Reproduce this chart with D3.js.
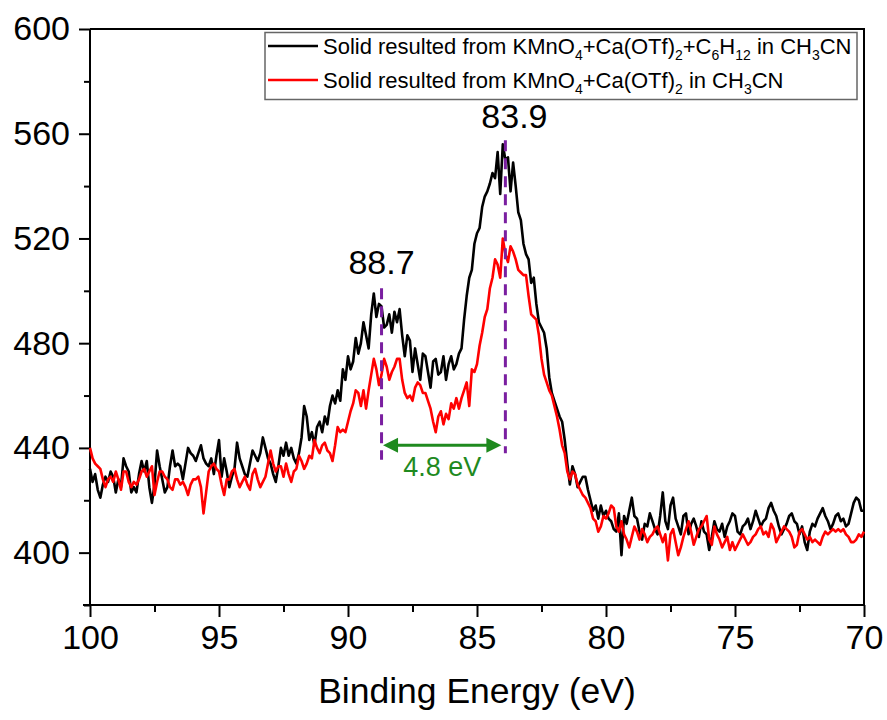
<!DOCTYPE html>
<html>
<head>
<meta charset="utf-8">
<script src="https://cdn.jsdelivr.net/npm/d3@7"></script>
<style>
  html, body { margin: 0; padding: 0; background: #fff; }
  svg { display: block; font-family: "Liberation Sans", Arial, sans-serif; }
</style>
</head>
<body>
<svg id="chart" width="887" height="720"></svg>
<script>
// Binding energy grid (eV), 0.1 eV steps from 100 down to 70
const energy = d3.range(0, 301).map(i => +(100 - 0.1 * i).toFixed(1));

// Intensity, solid from KMnO4 + Ca(OTf)2 + C6H12 in CH3CN (one row per eV)
const withCyclohexane = [
  432, 427, 430, 424, 421, 426, 429, 427, 431, 429,
  423, 428, 425, 436, 433, 431, 423, 425, 423, 430,
  435, 431, 435, 425, 419, 426, 439, 433, 428, 423,
  425, 433, 439, 433, 434, 433, 428, 434, 440, 438,
  437, 435, 438, 441, 436, 434, 433, 436, 430, 437,
  443, 429, 436, 431, 425, 429, 432, 442, 436, 433,
  430, 429, 434, 439, 437, 435, 438, 444, 440, 436,
  434, 430, 427, 433, 440, 437, 442, 437, 440, 436,
  434, 438, 444, 456, 452, 443, 446, 441, 448, 450,
  446, 452, 449, 456, 460, 457, 462, 458, 470, 466,
  475, 470, 473, 482, 476, 480, 488, 483, 478, 491,
  499, 490, 495, 494, 486, 487, 491, 484, 492, 488,
  493, 483, 475, 483, 481, 469, 478, 472, 466, 476,
  475, 469, 463, 473, 474, 468, 469, 475, 466, 472,
  475, 470, 472, 476, 478, 489, 498, 505, 508, 518,
  522, 524, 532, 536, 538, 541, 545, 543, 553, 537,
  556, 550, 551, 538, 549, 540, 530, 527, 518, 514,
  512, 503, 505, 495, 488, 486, 484, 478, 467, 461,
  458, 455, 452, 450, 443, 434, 426, 433, 430, 425,
  427, 429, 429, 424, 420, 416, 418, 413, 418, 414,
  416, 413, 412, 409, 408, 415, 399, 414, 411, 416,
  421, 414, 413, 408, 405, 411, 410, 415, 412, 409,
  407, 414, 423, 412, 409, 418, 421, 413, 410, 407,
  414, 415, 407, 411, 413, 410, 406, 412, 408, 407,
  401, 406, 412, 409, 408, 411, 406, 410, 412, 415,
  414, 408, 407, 410, 411, 413, 409, 412, 416, 413,
  410, 412, 413, 417, 419, 416, 414, 410, 407, 409,
  411, 414, 415, 412, 411, 407, 410, 404, 401, 408,
  411, 410, 413, 415, 417, 414, 412, 409, 411, 414,
  415, 412, 413, 410, 411, 415, 419, 421, 420, 416,
  416
];

// Intensity, solid from KMnO4 + Ca(OTf)2 in CH3CN (one row per eV)
const withoutCyclohexane = [
  440, 436, 434, 433, 432, 428, 425, 428, 429, 427,
  431, 428, 424, 431, 431, 427, 425, 427, 426, 428,
  431, 432, 429, 431, 433, 422, 427, 431, 431, 429,
  428, 425, 424, 428, 428, 426, 427, 425, 422, 426,
  428, 428, 429, 425, 415, 423, 431, 433, 434, 432,
  431, 426, 422, 428, 428, 431, 432, 428, 425, 427,
  429, 426, 424, 430, 432, 428, 425, 427, 429, 434,
  439, 434, 431, 433, 433, 429, 434, 430, 427, 431,
  432, 437, 435, 432, 434, 437, 436, 443, 440, 438,
  441, 442, 439, 438, 435, 441, 448, 446, 447, 446,
  450, 454, 457, 462, 461, 456, 462, 455, 462, 468,
  474, 470, 464, 468, 474, 471, 466, 469, 471, 474,
  474, 466, 461, 459, 460, 458, 463, 465, 464, 461,
  461, 458, 455, 450, 446, 452, 454, 449, 453, 451,
  457, 455, 459, 455, 459, 462, 465, 456, 470, 469,
  472, 479, 484, 490, 493, 501, 505, 512, 510, 505,
  520, 514, 511, 517, 515, 512, 508, 507, 506, 506,
  498, 491, 490, 489, 483, 474, 468, 465, 462, 460,
  456, 452, 447, 441, 438, 431, 428, 431, 430, 426,
  424, 422, 421, 419, 417, 413, 412, 408, 410, 414,
  413, 415, 418, 417, 410, 408, 412, 407, 405, 402,
  406, 410, 408, 405, 409, 407, 404, 406, 407, 409,
  410, 407, 404, 407, 397, 407, 409, 404, 399, 402,
  406, 409, 412, 408, 403, 406, 409, 410, 412, 414,
  405, 403, 410, 407, 405, 402, 404, 406, 401, 404,
  401, 403, 405, 407, 405, 403, 404, 406, 407, 409,
  410, 407, 408, 406, 411, 409, 404, 406, 408, 410,
  409, 408, 406, 402, 403, 408, 409, 407, 405, 406,
  404, 405, 404, 403, 406, 408, 407, 408, 409, 408,
  409, 408, 409, 407, 406, 404, 404, 405, 407, 406,
  408
];

const xTicks = [100, 95, 90, 85, 80, 75, 70];
const xMinorTicks = [97.5, 92.5, 87.5, 82.5, 77.5, 72.5];
const yTicks = [400, 440, 480, 520, 560, 600];
const yMinorTicks = [380, 420, 460, 500, 540, 580];

// Peak positions (eV) and their separation
const peakEnergies = [88.7, 83.9];
const peakLabels = ["88.7", "83.9"];
const splittingLabel = "4.8 eV";

const seriesNames = [
  [["Solid resulted from KMnO", 0], ["4", 1], ["+Ca(OTf)", 0], ["2", 1], ["+C", 0], ["6", 1], ["H", 0], ["12", 1], [" in CH", 0], ["3", 1], ["CN", 0]],
  [["Solid resulted from KMnO", 0], ["4", 1], ["+Ca(OTf)", 0], ["2", 1], [" in CH", 0], ["3", 1], ["CN", 0]]
];
const seriesColors = ["#000000", "#ff0000"];

const svg = d3.select("#chart");
const plotLeft = 90, plotRight = 864, plotTop = 29, plotBottom = 605;

const x = d3.scaleLinear().domain([100, 70]).range([plotLeft, plotRight]);
const y = d3.scaleLinear().domain([380, 600]).range([plotBottom, plotTop]);

const tickFont = 34;

// frame (top and right edges)
svg.append("path")
  .attr("d", `M${plotLeft},${plotTop}H${plotRight}V${plotBottom}`)
  .attr("fill", "none").attr("stroke", "#000").attr("stroke-width", 2);

// x axis
const gx = svg.append("g").attr("transform", `translate(0,${plotBottom})`);
gx.call(d3.axisBottom(x).tickValues(xTicks).tickSize(12).tickPadding(8).tickFormat(d3.format("d")));
gx.append("g").call(d3.axisBottom(x).tickValues(xMinorTicks).tickSize(7).tickFormat(""));
gx.selectAll(".domain").attr("stroke-width", 2).attr("d", `M${plotLeft - 7},0H${plotRight}`);
gx.selectAll(".tick line").attr("stroke-width", 2);
gx.selectAll("text").attr("font-size", tickFont).attr("fill", "#000")
  .attr("font-family", "Liberation Sans, Arial, sans-serif");

// y axis
const gy = svg.append("g").attr("transform", `translate(${plotLeft},0)`);
gy.call(d3.axisLeft(y).tickValues(yTicks).tickSize(11).tickPadding(9).tickFormat(d3.format("d")));
gy.append("g").call(d3.axisLeft(y).tickValues(yMinorTicks).tickSize(6).tickFormat(""));
gy.selectAll(".domain").attr("stroke-width", 2).attr("d", `M0,${plotBottom}V${plotTop}`);
gy.selectAll(".tick line").attr("stroke-width", 2);
gy.selectAll("text").attr("font-size", tickFont).attr("fill", "#000")
  .attr("font-family", "Liberation Sans, Arial, sans-serif");

// axis title
svg.append("text")
  .attr("x", (plotLeft + plotRight) / 2).attr("y", 703)
  .attr("text-anchor", "middle")
  .attr("font-size", 35.5)
  .text("Binding Energy (eV)");

// spectra
const line = d3.line().x((d, i) => x(energy[i])).y(d => y(d));
[withCyclohexane, withoutCyclohexane].forEach((s, k) => {
  svg.append("path")
    .datum(s)
    .attr("d", line)
    .attr("fill", "none")
    .attr("stroke", seriesColors[k])
    .attr("stroke-width", 2.6)
    .attr("stroke-linejoin", "round");
});

// peak markers
const purple = "#7a1fa0";
const markerSpans = [[501, 435.5], [557.5, 438]];
const labelAnchors = [[88.7, 506.5], [83.55, 562]];
peakEnergies.forEach((e, i) => {
  svg.append("line")
    .attr("x1", x(e)).attr("x2", x(e))
    .attr("y1", y(markerSpans[i][0])).attr("y2", y(markerSpans[i][1]))
    .attr("stroke", purple).attr("stroke-width", 3)
    .attr("stroke-dasharray", "11,7");
  svg.append("text")
    .attr("x", x(labelAnchors[i][0])).attr("y", y(labelAnchors[i][1]))
    .attr("text-anchor", "middle")
    .attr("font-size", 34)
    .text(peakLabels[i]);
});

// splitting arrow
const green = "#1f8a1f";
const arrowLevel = 441;
const ay = y(arrowLevel);
const ax1 = x(peakEnergies[0]) + 1.5, ax2 = x(peakEnergies[1]) - 4;
const head = 15, half = 7.5;
svg.append("line")
  .attr("x1", ax1 + head - 2).attr("x2", ax2 - head + 2)
  .attr("y1", ay).attr("y2", ay)
  .attr("stroke", green).attr("stroke-width", 3);
svg.append("path")
  .attr("d", `M${ax1},${ay}L${ax1 + head},${ay - half}L${ax1 + head},${ay + half}Z` +
             `M${ax2},${ay}L${ax2 - head},${ay - half}L${ax2 - head},${ay + half}Z`)
  .attr("fill", green);
svg.append("text")
  .attr("x", (ax1 + ax2) / 2).attr("y", y(429.3))
  .attr("text-anchor", "middle")
  .attr("font-size", 27)
  .attr("fill", green)
  .text(splittingLabel);

// legend
const lg = svg.append("g");
lg.append("rect")
  .attr("x", 265).attr("y", 32.5).attr("width", 592).attr("height", 67)
  .attr("fill", "#fff").attr("stroke", "#666").attr("stroke-width", 1.5);
seriesNames.forEach((parts, k) => {
  const cy = 46 + k * 34;
  lg.append("line")
    .attr("x1", 268).attr("x2", 318).attr("y1", cy).attr("y2", cy)
    .attr("stroke", seriesColors[k]).attr("stroke-width", 2.6);
  const t = lg.append("text").attr("x", 323).attr("y", cy + 7.5).attr("font-size", 22);
  let shifted = false;
  parts.forEach(([s, sub]) => {
    const ts = t.append("tspan").text(s);
    if (sub && !shifted) { ts.attr("dy", 6).attr("font-size", 14); shifted = true; }
    else if (sub) { ts.attr("font-size", 14); }
    else if (shifted) { ts.attr("dy", -6); shifted = false; }
  });
});
</script>
</body>
</html>
